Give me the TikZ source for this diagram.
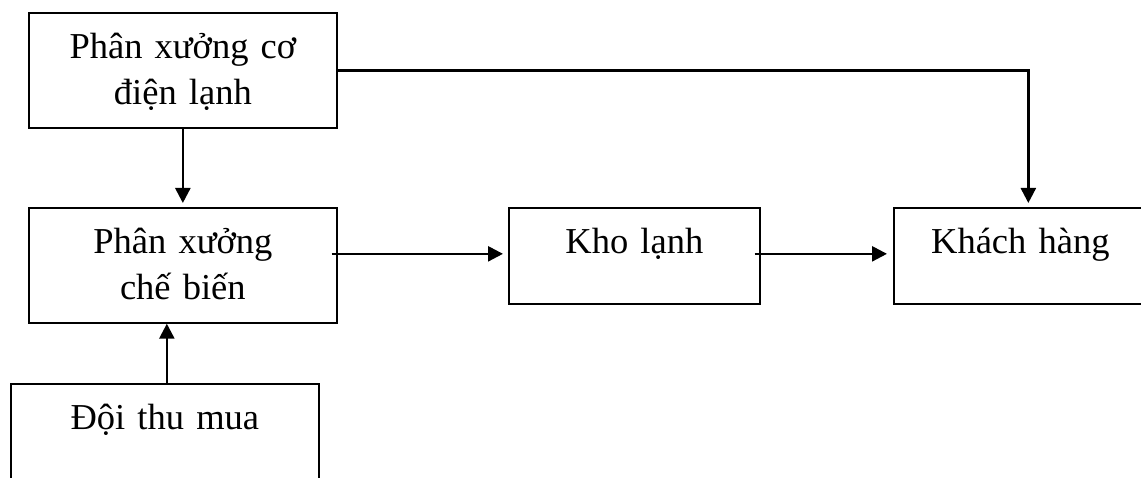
\documentclass[tikz,border=0pt]{standalone}
\usepackage{fontspec}
\setmainfont{Liberation Serif}
\usetikzlibrary{arrows.meta}

\tikzset{
  hop/.style={draw, line width=1.7pt, inner sep=0pt, anchor=north west, align=center,
    font=\fontsize{36.5pt}{46pt}\selectfont, text height=46pt},
  conn/.style={line width=2.5pt, -{Triangle[length=15pt,width=15pt]}}
}

\begin{document}
\begin{tikzpicture}[x=1pt,y=-1pt]
\useasboundingbox (0,0) rectangle (1141,478);
\clip (0,0) rectangle (1141,478);

\node[hop, text width=308pt, text depth=69pt] (codien) at (28,12) {Phân xưởng cơ\\điện lạnh};
\node[hop, text width=308pt, text depth=69pt] (chebien) at (28,207) {Phân xưởng\\chế biến};
\node[hop, text width=308pt, text depth=69pt] (doimua) at (10,383) {Đội thu mua};
\node[hop, text width=251pt, text depth=50pt] (kho) at (508,207) {Kho lạnh};
\node[hop, text width=253pt, text depth=50pt] (khach) at (893,207) {Khách hàng};

\draw[conn] (codien) -- ([yshift=4pt]chebien.north);
\draw[conn] ([xshift=2pt]doimua.north) -- ([xshift=2pt]doimua.north |- chebien.south);
\draw[conn] ([xshift=-6pt]chebien.base east) -- ([xshift=-5pt]kho.base west);
\draw[conn] ([xshift=-6pt]kho.base east) -- ([xshift=-6pt]khach.base west);
\draw[conn] (codien.east) -| ([xshift=8pt,yshift=4pt]khach.north);
\end{tikzpicture}
\end{document}
